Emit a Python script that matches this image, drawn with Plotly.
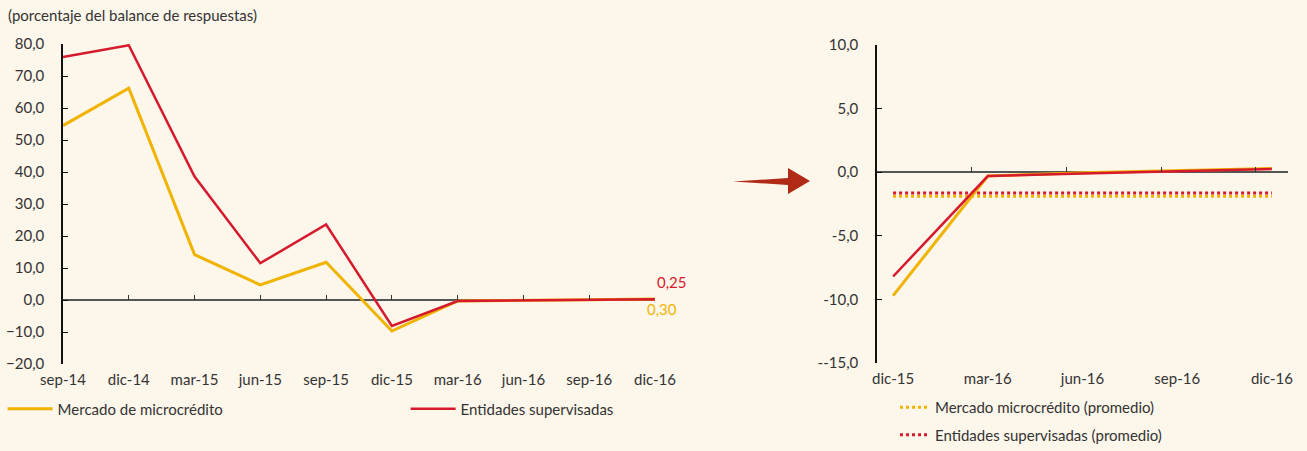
import plotly.graph_objects as go

# datos
fechas = ["sep-14", "dic-14", "mar-15", "jun-15", "sep-15", "dic-15", "mar-16", "jun-16", "sep-16", "dic-16"]
mercado = [54.5, 66.2, 14.2, 4.7, 11.8, -9.7, -0.3, 0.0, 0.1, 0.30]
entidades = [75.9, 79.6, 38.6, 11.5, 23.6, -8.1, -0.3, -0.1, 0.1, 0.25]

fechas_zoom = ["dic-15", "mar-16", "jun-16", "sep-16", "dic-16"]
mercado_zoom = [-9.7, -0.3, -0.05, 0.1, 0.30]
entidades_zoom = [-8.2, -0.3, -0.1, 0.05, 0.25]
mercado_prom = [-1.9, -1.9, -1.9, -1.9, -1.9]
entidades_prom = [-1.63, -1.63, -1.63, -1.63, -1.63]

ytick_izq = [-20, -10, 0, 10, 20, 30, 40, 50, 60, 70, 80]
ytick_der = [-15, -10, -5, 0, 5, 10]
ytext_der = ["--15,0", "-10,0", "-5,0", "0,0", "5,0", "10,0"]

AMARILLO = "#F0B400"
ROJO = "#D51A2E"
FONDO = "#FDF6EA"
FUENTE = "Lato"
W, H = 1307, 451

def px(x, y):
    return x / W, 1 - y / H

ix = list(range(len(fechas)))
ixz = list(range(len(fechas_zoom)))

fig = go.Figure()

fig.add_trace(go.Scatter(x=ix, y=mercado, mode="lines", name="Mercado de microcrédito",
                         line=dict(color=AMARILLO, width=3), legend="legend"))
fig.add_trace(go.Scatter(x=ix, y=entidades, mode="lines", name="Entidades supervisadas",
                         line=dict(color=ROJO, width=2.5), legend="legend"))

fig.add_trace(go.Scatter(x=ixz, y=mercado_prom, mode="lines", name="Mercado microcrédito (promedio)",
                         line=dict(color=AMARILLO, width=3, dash="dot"), xaxis="x2", yaxis="y2",
                         legend="legend2", legendgroup="a"))
fig.add_trace(go.Scatter(x=ixz, y=entidades_prom, mode="lines", name="Entidades supervisadas (promedio)",
                         line=dict(color=ROJO, width=3, dash="dot"), xaxis="x2", yaxis="y2",
                         legend="legend2", legendgroup="b"))
fig.add_trace(go.Scatter(x=ixz, y=mercado_zoom, mode="lines", showlegend=False,
                         line=dict(color=AMARILLO, width=3), xaxis="x2", yaxis="y2"))
fig.add_trace(go.Scatter(x=ixz, y=entidades_zoom, mode="lines", showlegend=False,
                         line=dict(color=ROJO, width=2.5), xaxis="x2", yaxis="y2"))

# trazas vacías para que se dibujen los ejes de marcas sobre el cero
fig.add_trace(go.Scatter(x=[], y=[], xaxis="x3", yaxis="y", showlegend=False, hoverinfo="skip"))
fig.add_trace(go.Scatter(x=[], y=[], xaxis="x4", yaxis="y2", showlegend=False, hoverinfo="skip"))

# dominios
xd1 = [63 / W, 655 / W]
yd1 = [1 - 364 / H, 1 - 44 / H]
xd2 = [877 / W, 1288 / W]
yd2 = [1 - 363 / H, 1 - 45 / H]
cero1 = yd1[0] + (0 - (-20)) / 100 * (yd1[1] - yd1[0])
cero2 = yd2[0] + (0 - (-15)) / 25 * (yd2[1] - yd2[0])

fuente = dict(family=FUENTE, size=15, color="#333333")
rng2 = [-0.17, len(fechas_zoom) - 1 + 0.17]

fig.update_layout(
    width=W, height=H, autosize=False,
    margin=dict(l=0, r=0, t=0, b=0),
    paper_bgcolor=FONDO, plot_bgcolor=FONDO,
    separators=",.",
    font=fuente,
    hovermode=False,
    xaxis=dict(domain=xd1, range=[0, len(fechas) - 1], tickvals=ix, ticktext=fechas,
               showgrid=False, zeroline=False, showline=False, ticks="", anchor="y",
               ticklabelstandoff=5, automargin=False),
    yaxis=dict(domain=yd1, range=[-20, 80], tickvals=ytick_izq, tickformat=".1f",
               showgrid=False, zeroline=True, zerolinecolor="#555555", zerolinewidth=1.5,
               showline=True, linecolor="#111111", linewidth=1.5, ticks="inside",
               ticklen=5, tickcolor="#111111", ticklabelstandoff=14, anchor="x",
               automargin=False),
    xaxis3=dict(domain=xd1, range=[0, len(fechas) - 1], tickvals=ix, overlaying="x",
                anchor="free", position=cero1, showticklabels=False, ticks="inside",
                ticklen=5, tickcolor="#333333", showgrid=False, zeroline=False, showline=False,
                automargin=False),
    xaxis2=dict(domain=xd2, range=rng2, tickvals=ixz, ticktext=fechas_zoom,
                showgrid=False, zeroline=False, showline=False, ticks="", anchor="y2",
                ticklabelstandoff=5, automargin=False),
    yaxis2=dict(domain=yd2, range=[-15, 10], tickvals=ytick_der, ticktext=ytext_der,
                showgrid=False, zeroline=True, zerolinecolor="#555555", zerolinewidth=1.5,
                showline=True, linecolor="#111111", linewidth=1.5, ticks="inside",
                ticklen=5, tickcolor="#111111", ticklabelstandoff=14, anchor="x2",
                automargin=False),
    xaxis4=dict(domain=xd2, range=rng2, tickvals=[v - 0.17 for v in ixz], overlaying="x2",
                anchor="free", position=cero2, showticklabels=False, ticks="inside",
                ticklen=5, tickcolor="#333333", showgrid=False, zeroline=False, showline=False,
                automargin=False),
    legend=dict(orientation="h", x=0.002, y=1 - 409 / H, xanchor="left", yanchor="middle",
                itemwidth=45, entrywidth=343, entrywidthmode="pixels",
                bgcolor="rgba(0,0,0,0)"),
    legend2=dict(orientation="v", x=895 / W, y=0, xanchor="left", yanchor="bottom",
                 tracegroupgap=5, bgcolor="rgba(0,0,0,0)"),
)

# titulo de unidades
fig.add_annotation(text="(porcentaje del balance de respuestas)", xref="paper", yref="paper",
                   x=6 / W, y=1 - 15 / H, xanchor="left", yanchor="middle", showarrow=False,
                   font=dict(family=FUENTE, size=15, color="#333333"))

# etiquetas de datos del último punto
fig.add_annotation(text=f"{entidades[-1]:.2f}".replace(".", ","), x=ix[-1], y=entidades[-1],
                   xref="x", yref="y", showarrow=False, xshift=17, yshift=17,
                   font=dict(family=FUENTE, size=15, color=ROJO))
fig.add_annotation(text=f"{mercado[-1]:.2f}".replace(".", ","), x=ix[-1], y=mercado[-1],
                   xref="x", yref="y", showarrow=False, xshift=7, yshift=-10,
                   font=dict(family=FUENTE, size=15, color=AMARILLO))

# flecha entre gráficos
pts = [px(733, 181.5), px(788, 178), px(788, 168), px(810, 181), px(788, 194), px(788, 185)]
path = "M " + " L ".join(f"{a:.5f},{b:.5f}" for a, b in pts) + " Z"
fig.add_shape(type="path", path=path, xref="paper", yref="paper",
              fillcolor="#B02A16", line=dict(width=0))

fig.write_html("out.html", config={"displayModeBar": False, "responsive": False},
               post_script="document.body.style.margin='0px';"
                           "document.documentElement.style.overflow='hidden';")
